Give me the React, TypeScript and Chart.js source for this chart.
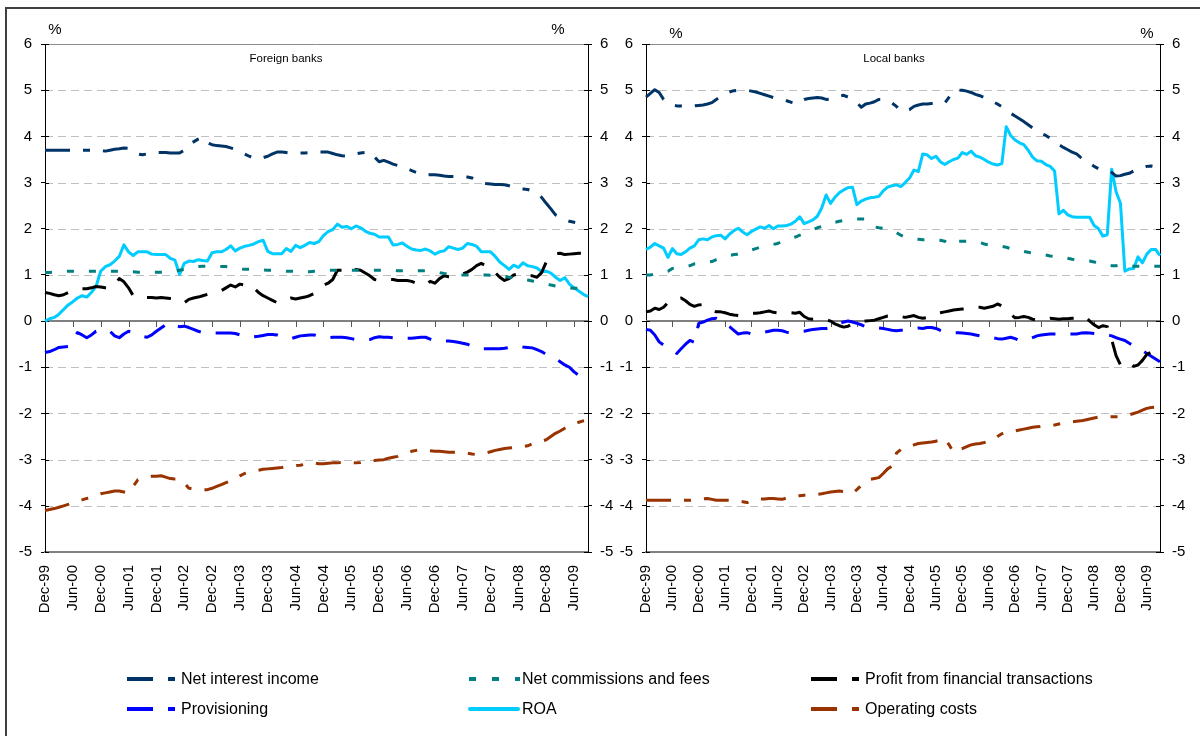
import React, { useEffect, useRef } from 'react';
import { Chart, registerables } from 'chart.js';
Chart.register(...registerables);

const FONT = "'Liberation Sans', Arial, Helvetica, sans-serif";
Chart.defaults.font.family = FONT;

// ---- categories (monthly, Dec-99 .. Sep-09) ----
const MONTH_NAMES = ['Jan', 'Feb', 'Mar', 'Apr', 'May', 'Jun', 'Jul', 'Aug', 'Sep', 'Oct', 'Nov', 'Dec'];
const N_MONTHS = 118;
const monthLabels: string[] = [];
for (let i = 0; i < N_MONTHS; i++) {
  const mi = (11 + i) % 12;
  const yr = 1999 + Math.floor((11 + i) / 12);
  monthLabels.push(`${MONTH_NAMES[mi]}-${String(yr % 100).padStart(2, '0')}`);
}
const Y_TICKS = [-5, -4, -3, -2, -1, 0, 1, 2, 3, 4, 5, 6];

// ---- Foreign banks ----
const foreignNetInterest = [
  3.70, 3.70, 3.70, 3.70, 3.70, 3.70, 3.70, 3.70, 3.70, 3.70, 3.70, 3.70,
  3.70, 3.68, 3.70, 3.72, 3.73, 3.75, 3.74, 3.68, 3.62, 3.60, 3.62, 3.65,
  3.65, 3.65, 3.65, 3.64, 3.64, 3.64, 3.70, 3.82, 3.88, 3.94, 3.98, 3.86,
  3.82, 3.80, 3.79, 3.78, 3.75, 3.72, 3.67, 3.62, 3.57, 3.53, 3.51, 3.54,
  3.57, 3.62, 3.66, 3.66, 3.65, 3.64, 3.64, 3.64, 3.64, 3.65, 3.65, 3.66,
  3.66, 3.66, 3.63, 3.60, 3.58, 3.57, 3.60, 3.62, 3.64, 3.65, 3.66, 3.55,
  3.45, 3.48, 3.44, 3.40, 3.37, 3.34, 3.30, 3.26, 3.22, 3.18, 3.16, 3.17,
  3.17, 3.16, 3.14, 3.13, 3.13, 3.13, 3.13, 3.12, 3.10, 3.05, 3.00, 2.98,
  2.97, 2.96, 2.96, 2.95, 2.93, 2.90, 2.87, 2.86, 2.85, 2.82, 2.76, 2.68,
  2.55, 2.43, 2.30, 2.25, 2.20, 2.16, 2.14, 2.12, 2.10, 2.08,
];
const foreignCommissions = [
  1.05, 1.05, 1.06, 1.06, 1.07, 1.08, 1.08, 1.08, 1.08, 1.08, 1.08, 1.08,
  1.08, 1.08, 1.08, 1.08, 1.08, 1.08, 1.07, 1.07, 1.06, 1.06, 1.06, 1.06,
  1.06, 1.06, 1.06, 1.07, 1.08, 1.10, 1.12, 1.15, 1.17, 1.18, 1.19, 1.19,
  1.18, 1.18, 1.18, 1.18, 1.17, 1.15, 1.13, 1.12, 1.12, 1.12, 1.11, 1.11,
  1.10, 1.10, 1.10, 1.09, 1.08, 1.08, 1.08, 1.07, 1.07, 1.07, 1.08, 1.09,
  1.09, 1.10, 1.10, 1.10, 1.10, 1.10, 1.10, 1.10, 1.10, 1.10, 1.10, 1.10,
  1.10, 1.10, 1.10, 1.10, 1.09, 1.09, 1.09, 1.09, 1.09, 1.09, 1.09, 1.09,
  1.07, 1.05, 1.03, 1.02, 1.02, 1.01, 1.00, 1.00, 1.00, 1.00, 1.00, 1.00,
  0.99, 0.99, 0.98, 0.97, 0.95, 0.94, 0.93, 0.91, 0.89, 0.87, 0.85, 0.83,
  0.80, 0.78, 0.76, 0.74, 0.73, 0.72, 0.71, 0.71, 0.70, 0.70,
];
const foreignFinTrans = [
  0.62, 0.60, 0.57, 0.55, 0.57, 0.62, 0.66, 0.68, 0.70, 0.70, 0.72, 0.75,
  0.74, 0.72, 0.71, 0.78, 0.92, 0.85, 0.72, 0.55, 0.52, 0.51, 0.51, 0.51,
  0.50, 0.51, 0.50, 0.49, 0.48, 0.46, 0.40, 0.47, 0.50, 0.52, 0.55, 0.58,
  0.60, 0.63, 0.66, 0.72, 0.78, 0.74, 0.80, 0.78, 0.80, 0.72, 0.62, 0.55,
  0.50, 0.45, 0.40, 0.42, 0.48, 0.50, 0.48, 0.50, 0.52, 0.55, 0.60, 0.72,
  0.78, 0.82, 0.90, 1.10, 1.10, 1.08, 1.05, 1.12, 1.10, 1.04, 0.98, 0.90,
  0.88, 0.88, 0.90, 0.90, 0.88, 0.88, 0.88, 0.86, 0.82, 0.80, 0.78, 0.86,
  0.82, 0.92, 0.98, 0.96, 0.95, 0.98, 1.02, 1.06, 1.12, 1.20, 1.25, 1.20,
  1.10, 1.05, 0.95, 0.88, 0.92, 1.00, 1.02, 1.00, 0.98, 0.98, 0.95, 1.05,
  1.28, 1.40, 1.46, 1.47, 1.44, 1.45, 1.46, 1.47, 1.47, 1.47,
];
const foreignProvisioning = [
  -0.68, -0.66, -0.62, -0.57, -0.56, -0.55, -0.40, -0.25, -0.30, -0.36, -0.30, -0.22,
  -0.20, -0.18, -0.22, -0.32, -0.36, -0.28, -0.22, -0.25, -0.30, -0.33, -0.35, -0.30,
  -0.22, -0.15, -0.08, -0.03, -0.10, -0.12, -0.11, -0.14, -0.18, -0.22, -0.25, -0.26,
  -0.26, -0.26, -0.26, -0.26, -0.26, -0.27, -0.30, -0.33, -0.35, -0.34, -0.33, -0.31,
  -0.29, -0.29, -0.30, -0.34, -0.37, -0.38, -0.35, -0.32, -0.31, -0.30, -0.30, -0.33,
  -0.36, -0.36, -0.35, -0.35, -0.35, -0.36, -0.38, -0.40, -0.40, -0.40, -0.40, -0.36,
  -0.34, -0.35, -0.35, -0.36, -0.36, -0.37, -0.37, -0.37, -0.36, -0.35, -0.35, -0.39,
  -0.43, -0.43, -0.43, -0.43, -0.44, -0.46, -0.48, -0.50, -0.54, -0.58, -0.60, -0.60,
  -0.60, -0.60, -0.60, -0.59, -0.57, -0.54, -0.54, -0.56, -0.57, -0.58, -0.62, -0.66,
  -0.72, -0.76, -0.80, -0.88, -0.95, -1.00, -1.10, -1.17, -1.21, -1.24,
];
const foreignROA = [
  0.00, 0.05, 0.08, 0.15, 0.25, 0.35, 0.42, 0.50, 0.55, 0.52, 0.62, 0.75,
  1.08, 1.18, 1.22, 1.30, 1.40, 1.65, 1.50, 1.42, 1.50, 1.50, 1.50, 1.45,
  1.44, 1.44, 1.44, 1.36, 1.32, 1.01, 1.25, 1.30, 1.29, 1.33, 1.31, 1.30,
  1.48, 1.50, 1.50, 1.55, 1.63, 1.52, 1.58, 1.62, 1.64, 1.67, 1.72, 1.75,
  1.51, 1.46, 1.46, 1.46, 1.57, 1.51, 1.64, 1.59, 1.64, 1.70, 1.68, 1.72,
  1.85, 1.94, 1.98, 2.10, 2.03, 2.05, 2.00, 2.06, 2.02, 1.95, 1.90, 1.88,
  1.82, 1.82, 1.82, 1.65, 1.66, 1.69, 1.62, 1.56, 1.54, 1.53, 1.56, 1.52,
  1.45, 1.50, 1.52, 1.61, 1.58, 1.55, 1.58, 1.68, 1.66, 1.62, 1.50, 1.50,
  1.50, 1.40, 1.28, 1.20, 1.12, 1.21, 1.16, 1.26, 1.20, 1.18, 1.15, 1.07,
  1.08, 1.04, 0.95, 0.88, 0.94, 0.80, 0.72, 0.65, 0.58, 0.53,
];
const foreignOpCosts = [
  -4.10, -4.08, -4.06, -4.03, -4.00, -3.97, -3.94, -3.90, -3.87, -3.84, -3.82, -3.78,
  -3.74, -3.72, -3.70, -3.68, -3.68, -3.70, -3.72, -3.58, -3.44, -3.40, -3.38, -3.36,
  -3.36, -3.35, -3.38, -3.41, -3.42, -3.42, -3.50, -3.62, -3.63, -3.64, -3.65, -3.65,
  -3.62, -3.58, -3.54, -3.50, -3.46, -3.42, -3.35, -3.30, -3.27, -3.25, -3.23, -3.21,
  -3.20, -3.19, -3.18, -3.17, -3.15, -3.14, -3.13, -3.12, -3.10, -3.08, -3.07, -3.09,
  -3.09, -3.08, -3.07, -3.07, -3.06, -3.06, -3.06, -3.07, -3.06, -3.04, -3.03, -3.02,
  -3.01, -3.00, -2.97, -2.95, -2.93, -2.89, -2.85, -2.82, -2.80, -2.78, -2.80, -2.81,
  -2.82, -2.82, -2.83, -2.84, -2.84, -2.84, -2.85, -2.86, -2.88, -2.89, -2.88, -2.86,
  -2.83, -2.80, -2.78, -2.76, -2.75, -2.74, -2.73, -2.72, -2.70, -2.66, -2.62, -2.60,
  -2.57, -2.50, -2.43, -2.38, -2.32, -2.27, -2.22, -2.19, -2.16, -2.14,
];

// ---- Local banks ----
const localNetInterest = [
  4.85, 4.93, 5.01, 4.95, 4.80, 4.72, 4.68, 4.66, 4.66, 4.65, 4.65, 4.66,
  4.67, 4.68, 4.70, 4.73, 4.80, 4.86, 4.92, 4.96, 4.99, 5.00, 5.00, 5.00,
  4.98, 4.96, 4.93, 4.90, 4.87, 4.84, 4.81, 4.79, 4.77, 4.74, 4.72, 4.72,
  4.80, 4.82, 4.83, 4.84, 4.83, 4.80, 4.81, 4.84, 4.87, 4.89, 4.85, 4.78,
  4.73, 4.63, 4.70, 4.72, 4.75, 4.80, 4.80, 4.78, 4.72, 4.65, 4.55, 4.55,
  4.58, 4.65, 4.68, 4.70, 4.70, 4.71, 4.71, 4.71, 4.72, 4.85, 4.98, 5.00,
  5.00, 4.98, 4.95, 4.91, 4.88, 4.84, 4.79, 4.75, 4.70, 4.64, 4.58, 4.50,
  4.44, 4.38, 4.32, 4.25, 4.18, 4.10, 4.06, 4.02, 3.96, 3.90, 3.82, 3.76,
  3.71, 3.66, 3.62, 3.54, 3.47, 3.42, 3.35, 3.30, 3.28, 3.27, 3.22, 3.14,
  3.15, 3.18, 3.20, 3.25, 3.28, 3.32, 3.35, 3.36, 3.34, 3.29,
];
const localCommissions = [
  1.00, 1.00, 1.02, 1.04, 1.06, 1.08, 1.14, 1.16, 1.18, 1.19, 1.20, 1.24,
  1.25, 1.27, 1.28, 1.29, 1.33, 1.36, 1.39, 1.42, 1.44, 1.45, 1.48, 1.51,
  1.54, 1.57, 1.60, 1.62, 1.64, 1.66, 1.68, 1.73, 1.76, 1.79, 1.82, 1.86,
  1.90, 1.94, 1.98, 2.02, 2.05, 2.10, 2.12, 2.14, 2.16, 2.18, 2.19, 2.20,
  2.21, 2.21, 2.21, 2.08, 2.04, 2.02, 2.01, 2.00, 1.96, 1.92, 1.86, 1.82,
  1.80, 1.78, 1.77, 1.76, 1.76, 1.76, 1.76, 1.75, 1.73, 1.65, 1.70, 1.73,
  1.73, 1.73, 1.73, 1.72, 1.70, 1.67, 1.65, 1.64, 1.63, 1.62, 1.60, 1.57,
  1.55, 1.53, 1.51, 1.49, 1.47, 1.46, 1.45, 1.43, 1.41, 1.40, 1.40, 1.38,
  1.36, 1.34, 1.33, 1.32, 1.31, 1.30, 1.28, 1.26, 1.22, 1.21, 1.20, 1.20,
  1.22, 1.19, 1.19, 1.19, 1.19, 1.19, 1.19, 1.19, 1.19, 1.19,
];
const localFinTrans = [
  0.20, 0.22, 0.28, 0.25, 0.30, 0.40, 0.42, 0.48, 0.50, 0.44, 0.36, 0.32,
  0.35, 0.36, 0.30, 0.25, 0.20, 0.20, 0.18, 0.15, 0.13, 0.12, 0.13, 0.15,
  0.17, 0.17, 0.18, 0.20, 0.22, 0.19, 0.18, 0.17, 0.18, 0.18, 0.17, 0.19,
  0.10, 0.05, 0.04, 0.04, 0.04, 0.03, 0.00, -0.06, -0.10, -0.13, -0.11, -0.06,
  -0.03, -0.02, 0.00, 0.01, 0.02, 0.05, 0.08, 0.11, 0.11, 0.12, 0.10, 0.08,
  0.10, 0.12, 0.08, 0.06, 0.08, 0.12, 0.16, 0.18, 0.20, 0.22, 0.24, 0.25,
  0.26, 0.27, 0.28, 0.30, 0.30, 0.28, 0.30, 0.32, 0.37, 0.33, 0.25, 0.15,
  0.07, 0.08, 0.10, 0.08, 0.04, 0.02, 0.04, 0.05, 0.06, 0.05, 0.04, 0.05,
  0.05, 0.06, 0.07, 0.08, 0.09, 0.00, -0.08, -0.14, -0.10, -0.12, -0.40, -0.75,
  -0.95, -0.98, -0.90, -0.98, -0.95, -0.85, -0.72, -0.67, -0.70, -0.74,
];
const localProvisioning = [
  -0.18, -0.20, -0.30, -0.45, -0.52, -0.55, -0.62, -0.70, -0.60, -0.50, -0.42, -0.46,
  -0.05, -0.02, 0.02, 0.05, 0.06, 0.02, -0.06, -0.12, -0.20, -0.28, -0.26, -0.25,
  -0.28, -0.26, -0.25, -0.24, -0.22, -0.20, -0.20, -0.21, -0.24, -0.25, -0.24, -0.23,
  -0.22, -0.20, -0.18, -0.17, -0.16, -0.16, -0.14, -0.10, -0.05, -0.02, 0.00, -0.02,
  -0.05, -0.08, -0.12, -0.14, -0.15, -0.15, -0.16, -0.18, -0.20, -0.21, -0.20, -0.20,
  -0.18, -0.16, -0.15, -0.16, -0.14, -0.14, -0.16, -0.20, -0.23, -0.24, -0.25, -0.25,
  -0.26, -0.27, -0.28, -0.30, -0.32, -0.34, -0.34, -0.36, -0.38, -0.39, -0.37, -0.35,
  -0.38, -0.42, -0.41, -0.40, -0.36, -0.32, -0.30, -0.29, -0.28, -0.28, -0.28, -0.28,
  -0.28, -0.28, -0.28, -0.26, -0.25, -0.26, -0.27, -0.28, -0.29, -0.30, -0.32, -0.36,
  -0.39, -0.42, -0.48, -0.53, -0.58, -0.64, -0.70, -0.76, -0.82, -0.88,
];
const localROA = [
  1.55, 1.60, 1.68, 1.63, 1.58, 1.38, 1.57, 1.46, 1.44, 1.50, 1.58, 1.63,
  1.76, 1.78, 1.76, 1.82, 1.85, 1.86, 1.78, 1.88, 1.96, 2.01, 1.93, 1.87,
  1.94, 1.99, 2.04, 2.01, 2.07, 2.00, 2.06, 2.06, 2.07, 2.10, 2.16, 2.26,
  2.11, 2.15, 2.19, 2.27, 2.45, 2.73, 2.55, 2.68, 2.78, 2.84, 2.89, 2.90,
  2.52, 2.60, 2.64, 2.67, 2.68, 2.70, 2.82, 2.90, 2.93, 2.95, 2.91, 3.00,
  3.10, 3.27, 3.24, 3.62, 3.60, 3.52, 3.57, 3.45, 3.39, 3.45, 3.50, 3.53,
  3.65, 3.61, 3.68, 3.58, 3.55, 3.50, 3.44, 3.40, 3.38, 3.41, 4.21, 4.02,
  3.92, 3.86, 3.82, 3.70, 3.55, 3.47, 3.46, 3.39, 3.35, 3.25, 2.32, 2.40,
  2.30, 2.26, 2.25, 2.25, 2.25, 2.25, 2.07, 2.00, 1.84, 1.87, 3.29, 2.80,
  2.55, 1.08, 1.13, 1.14, 1.39, 1.26, 1.45, 1.55, 1.55, 1.42,
];
const localOpCosts = [
  -3.88, -3.88, -3.88, -3.88, -3.88, -3.88, -3.88, -3.88, -3.88, -3.88, -3.88, -3.87,
  -3.86, -3.85, -3.84, -3.86, -3.88, -3.88, -3.88, -3.88, -3.89, -3.90, -3.91, -3.93,
  -3.90, -3.86, -3.85, -3.85, -3.84, -3.84, -3.85, -3.86, -3.83, -3.81, -3.79, -3.78,
  -3.77, -3.76, -3.75, -3.75, -3.74, -3.72, -3.70, -3.69, -3.68, -3.69, -3.71, -3.73,
  -3.65, -3.56, -3.48, -3.43, -3.41, -3.39, -3.30, -3.20, -3.14, -2.86, -2.78, -2.75,
  -2.72, -2.68, -2.65, -2.64, -2.63, -2.62, -2.60, -2.58, -2.54, -2.68, -2.84, -2.79,
  -2.76, -2.72, -2.68, -2.66, -2.65, -2.63, -2.60, -2.57, -2.50, -2.44, -2.39, -2.38,
  -2.38, -2.36, -2.34, -2.32, -2.30, -2.29, -2.28, -2.27, -2.26, -2.25, -2.23, -2.21,
  -2.19, -2.18, -2.17, -2.16, -2.14, -2.12, -2.10, -2.08, -2.07, -2.07, -2.07, -2.07,
  -2.07, -2.05, -2.03, -2.00, -1.97, -1.93, -1.89, -1.87, -1.86, -1.85,
];

// ---- series styling ----
const SERIES_NAMES = [
  'Net interest income',
  'Net commissions and fees',
  'Profit from financial transactions',
  'Provisioning',
  'ROA',
  'Operating costs',
];
const SERIES_COLORS = ['#003366', '#008080', '#000000', '#0000FF', '#00CCFF', '#993300'];
const SERIES_DASH = [[25, 13, 7, 13], [7, 15], [24, 15], [24, 15], [], [25, 13, 7, 13]];
const DRAW_ORDER = [0, 1, 2, 3, 4, 5];

const foreignData = [foreignNetInterest, foreignCommissions, foreignFinTrans, foreignProvisioning, foreignROA, foreignOpCosts];
const localData = [localNetInterest, localCommissions, localFinTrans, localProvisioning, localROA, localOpCosts];

const gridPlugin = {
  id: 'excelGrid',
  beforeDatasetsDraw(chart: any) {
    const { ctx, chartArea, scales } = chart;
    const { left, right } = chartArea;
    const ys = scales.y;
    const xs = scales.x;
    ctx.save();
    ctx.lineWidth = 1;
    ctx.strokeStyle = '#BFBFBF';
    ctx.setLineDash([8, 5]);
    Y_TICKS.forEach((v) => {
      if (v === 0 || v === 6 || v === -5) return;
      const py = Math.round(ys.getPixelForValue(v)) + 0.5;
      ctx.beginPath();
      ctx.moveTo(left, py);
      ctx.lineTo(right, py);
      ctx.stroke();
    });
    ctx.setLineDash([]);
    // top line
    ctx.strokeStyle = '#8C8C8C';
    const pt = Math.round(ys.getPixelForValue(6)) + 0.5;
    ctx.beginPath();
    ctx.moveTo(left, pt);
    ctx.lineTo(right, pt);
    ctx.stroke();
    // zero line
    const p0 = Math.round(ys.getPixelForValue(0));
    ctx.lineWidth = 2;
    ctx.strokeStyle = '#808080';
    ctx.beginPath();
    ctx.moveTo(left, p0);
    ctx.lineTo(right, p0);
    ctx.stroke();
    // category tick marks on the zero line
    ctx.lineWidth = 1;
    ctx.strokeStyle = '#555555';
    for (let i = 6; i < monthLabels.length; i += 6) {
      const px = Math.round(xs.getPixelForValue(i)) + 0.5;
      ctx.beginPath();
      ctx.moveTo(px, p0);
      ctx.lineTo(px, p0 + 6);
      ctx.stroke();
    }
    // inward halves of the cross tick marks on both value axes
    ctx.strokeStyle = '#000000';
    Y_TICKS.forEach((v) => {
      const py = Math.round(ys.getPixelForValue(v)) + 0.5;
      ctx.beginPath();
      ctx.moveTo(left, py);
      ctx.lineTo(left + 4, py);
      ctx.moveTo(right - 4, py);
      ctx.lineTo(right, py);
      ctx.stroke();
    });
    ctx.restore();
  },
};

function makeChart(canvas: HTMLCanvasElement, data: number[][], padding: any) {
  const yAxis = (position: string, width: number, pad: number) => ({
    position,
    min: -5,
    max: 6,
    ticks: { stepSize: 1, padding: pad, color: '#000', font: { size: 15, family: FONT } },
    grid: { display: true, drawOnChartArea: false, drawTicks: true, tickLength: 4, tickColor: '#000', tickWidth: 1 },
    border: { display: true, color: '#000', width: 1 },
    afterFit: (s: any) => {
      s.width = width;
    },
  });
  return new Chart(canvas, {
    type: 'line',
    data: {
      labels: monthLabels,
      datasets: DRAW_ORDER.map((i) => ({
        label: SERIES_NAMES[i],
        data: data[i],
        borderColor: SERIES_COLORS[i],
        backgroundColor: SERIES_COLORS[i],
        borderWidth: 3,
        borderDash: SERIES_DASH[i],
        borderCapStyle: 'butt',
        borderJoinStyle: 'round',
        pointRadius: 0,
        tension: 0,
        fill: false,
        yAxisID: 'y',
      })),
    },
    options: {
      responsive: false,
      animation: false,
      events: [],
      layout: { padding },
      plugins: { legend: { display: false }, tooltip: { enabled: false }, title: { display: false } },
      scales: {
        x: {
          type: 'category',
          offset: false,
          grid: { display: false, drawTicks: false },
          border: { display: true, color: '#808080', width: 2 },
          ticks: {
            autoSkip: false,
            maxRotation: 90,
            minRotation: 90,
            padding: 13,
            color: '#000',
            font: { size: 15, family: FONT },
            callback: (_v: any, i: number) => (i % 6 === 0 ? monthLabels[i] : null),
          },
          afterFit: (s: any) => {
            s.height = 88;
          },
        },
        y: yAxis('left', 40, 9),
        y2: yAxis('right', 30, 8),
      },
    } as any,
    plugins: [gridPlugin],
  });
}

const LEGEND_ROWS_Y = [679, 709];
const LEGEND_ITEMS = [
  { s: 0, kind: 'ld', x: 127, row: 0 },
  { s: 1, kind: 'dot', x: 469, row: 0 },
  { s: 2, kind: 'ld', x: 811, row: 0 },
  { s: 3, kind: 'ld', x: 127, row: 1 },
  { s: 4, kind: 'solid', x: 468, row: 1 },
  { s: 5, kind: 'ld', x: 811, row: 1 },
];

export default function App() {
  const leftRef = useRef<HTMLCanvasElement>(null);
  const rightRef = useRef<HTMLCanvasElement>(null);

  useEffect(() => {
    const c1 = makeChart(leftRef.current!, foreignData, { left: 5, right: 2, top: 44, bottom: 0 });
    const c2 = makeChart(rightRef.current!, localData, { left: 6, right: 10, top: 44, bottom: 0 });
    return () => {
      c1.destroy();
      c2.destroy();
    };
  }, []);

  const txt = (x: number, y: number, s: string, size: number, key?: string) => (
    <div
      key={key}
      style={{
        position: 'absolute',
        left: x,
        top: y,
        transform: 'translate(-50%, -50%)',
        fontSize: size,
        lineHeight: 1,
        whiteSpace: 'nowrap',
        color: '#000',
      }}
    >
      {s}
    </div>
  );

  return (
    <div
      style={{
        position: 'absolute',
        left: 0,
        top: 0,
        width: 1200,
        height: 736,
        overflow: 'hidden',
        background: '#fff',
        fontFamily: FONT,
      }}
    >
      <div
        style={{
          position: 'absolute',
          left: 5,
          top: 7,
          width: 1300,
          height: 900,
          borderLeft: '2px solid #404040',
          borderTop: '2px solid #404040',
        }}
      />
      <canvas ref={leftRef} width={620} height={640} style={{ position: 'absolute', left: 0, top: 0 }} />
      <canvas ref={rightRef} width={600} height={640} style={{ position: 'absolute', left: 600, top: 0 }} />
      {txt(55, 28, '%', 15)}
      {txt(558, 28, '%', 15)}
      {txt(676, 32, '%', 15)}
      {txt(1147, 32, '%', 15)}
      {txt(286, 59, 'Foreign banks', 11.5)}
      {txt(894, 59, 'Local banks', 11.5)}
      <svg width={1200} height={736} style={{ position: 'absolute', left: 0, top: 0, pointerEvents: 'none' }}>
        {LEGEND_ITEMS.map((it, k) => {
          const y = LEGEND_ROWS_Y[it.row] - 2;
          const c = SERIES_COLORS[it.s];
          if (it.kind === 'ld')
            return (
              <g key={k}>
                <rect x={it.x} y={y} width={26} height={4} fill={c} />
                <rect x={it.x + 41} y={y} width={7} height={4} fill={c} />
              </g>
            );
          if (it.kind === 'dot')
            return (
              <g key={k}>
                <rect x={it.x} y={y} width={7} height={4} fill={c} />
                <rect x={it.x + 23} y={y} width={7} height={4} fill={c} />
                <rect x={it.x + 46} y={y} width={5} height={4} fill={c} />
              </g>
            );
          return <rect key={k} x={it.x} y={y} width={52} height={4} rx={2} fill={c} />;
        })}
      </svg>
      {LEGEND_ITEMS.map((it, k) => (
        <div
          key={'t' + k}
          style={{
            position: 'absolute',
            left: it.x + (it.kind === 'dot' ? 53 : 54),
            top: LEGEND_ROWS_Y[it.row] - 9,
            fontSize: 16,
            lineHeight: '18px',
            whiteSpace: 'nowrap',
            color: '#000',
          }}
        >
          {SERIES_NAMES[it.s]}
        </div>
      ))}
    </div>
  );
}
